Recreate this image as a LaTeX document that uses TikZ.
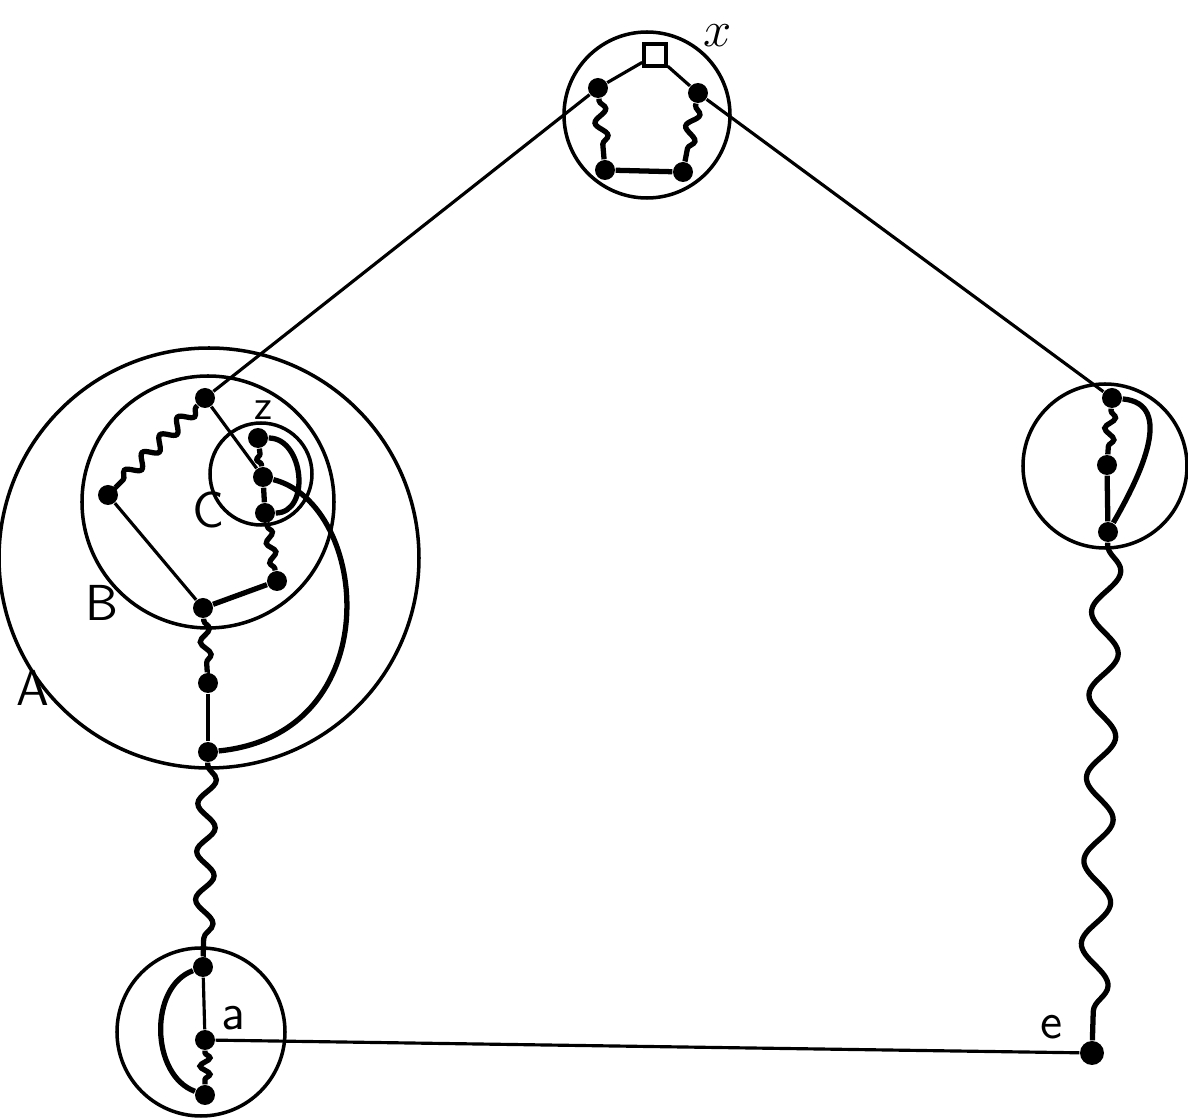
\documentclass[tikz,border=0pt]{standalone}
\usepackage{tikz}
\usetikzlibrary{decorations.pathmorphing}
\newcommand{\Ring}[3]{\draw[ring] (#1,#2) circle (#3);}

\begin{document}
\begin{tikzpicture}[
  punkt/.style={circle,fill,inner sep=0pt,minimum size=0.2cm},
  quadrat/.style={draw,line width=1pt,inner sep=0pt,minimum size=0.22cm,fill=white},
  ring/.style={line width=1pt},
  linie/.style={line width=0.9pt},
  dick/.style={line width=1.5pt},
  welle/.style 2 args={line width=1.5pt,decorate,
    decoration={snake,amplitude=#1,segment length=#2,pre length=0.02cm,post length=0.02cm}},
  schrift/.style={font=\sffamily\Large}]
  \useasboundingbox (0,0) rectangle (11.88,11.19);
  % Kreise
  \Ring{6.47}{10.04}{0.83}
  \Ring{2.09}{5.61}{2.10}
  \Ring{2.08}{6.17}{1.26}
  \Ring{2.61}{6.45}{0.51}
  \Ring{2.01}{0.87}{0.84}
  \Ring{11.05}{6.53}{0.82}
  % oberer Kreis
  \node[quadrat] (q) at (6.55,10.64) {};
  \node[punkt] (t1) at (5.98,10.31) {};
  \node[punkt] (t2) at (6.98,10.26) {};
  \node[punkt] (t3) at (6.05,9.49) {};
  \node[punkt] (t4) at (6.83,9.47) {};
  \draw[linie] (q) -- (t1);
  \draw[linie] (q) -- (t2);
  \draw[welle={0.06cm}{0.27cm}] (t1) -- (t3);
  \draw[welle={0.06cm}{0.27cm}] (t2) -- (t4);
  \draw[dick] (t3) -- (t4);
  \node[schrift] (lx) at (7.18,10.83) {$x$};
  % linke Kreise A, B, C
  \node[punkt] (b1) at (2.05,7.21) {};
  \node[punkt] (b2) at (1.08,6.24) {};
  \node[punkt] (b3) at (2.03,5.11) {};
  \node[punkt] (b4) at (2.77,5.38) {};
  \node[punkt] (c1) at (2.65,6.06) {};
  \node[punkt] (c2) at (2.63,6.42) {};
  \node[punkt] (zp) at (2.58,6.81) {};
  \node[punkt] (a1) at (2.08,4.36) {};
  \node[punkt] (a2) at (2.08,3.67) {};
  \draw[linie] (t1) -- (b1);
  \draw[linie] (b1) -- (c2);
  \draw[welle={0.06cm}{0.25cm}] (b1) -- (b2);
  \draw[linie] (b2) -- (b3);
  \draw[dick] (b3) -- (b4);
  \draw[welle={0.04cm}{0.2cm}] (b4) -- (c1);
  \draw[dick] (c1) -- (c2);
  \draw[welle={0.04cm}{0.17cm}] (c2) -- (zp);
  \draw[dick] (zp) to[out=0,in=0,looseness=1.2] (c1);
  \draw[dick] (c2) .. controls (3.7,6.15) and (3.9,3.85) .. (a2);
  \draw[welle={0.05cm}{0.26cm}] (b3) -- (a1);
  \draw[linie] (a1) -- (a2);
  \node[schrift] (lA) at (0.33,4.31) {A};
  \node[schrift] (lB) at (1.02,5.16) {B};
  \node[schrift] (lC) at (2.08,6.09) {C};
  \node[font=\sffamily\large] (lz) at (2.63,7.09) {z};
  % unterer Kreis
  \node[punkt] (d1) at (2.03,1.52) {};
  \node[punkt] (d2) at (2.05,0.79) {};
  \node[punkt] (d3) at (2.05,0.24) {};
  \node[punkt,minimum size=0.24cm] (e) at (10.92,0.66) {};
  \draw[welle={0.09cm}{0.48cm}] (a2) -- (d1);
  \draw[linie] (d1) -- (d2);
  \draw[welle={0.05cm}{0.165cm}] (d2) -- (d3);
  \draw[dick] (d1) to[out=200,in=160] (d3);
  \draw[linie] (d2) -- (e);
  \node[schrift] (la) at (2.33,1.01) {a};
  \node[schrift] (le) at (10.52,0.92) {e};
  % rechter Kreis
  \node[punkt] (r1) at (11.12,7.21) {};
  \node[punkt] (r2) at (11.07,6.54) {};
  \node[punkt] (r3) at (11.08,5.87) {};
  \draw[linie] (t2) -- (r1);
  \draw[welle={0.05cm}{0.22cm}] (r1) -- (r2);
  \draw[dick] (r2) -- (r3);
  \draw[dick] (r1) to[out=-5,in=60,looseness=1.1] (r3);
  \draw[welle={0.14cm}{0.83cm}] (r3) -- (e);
\end{tikzpicture}
\end{document}
